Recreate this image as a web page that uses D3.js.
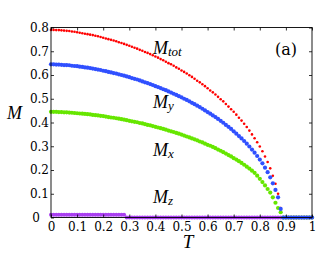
<!DOCTYPE html>
<html>
<head>
<meta charset="utf-8">
<script src="https://cdn.jsdelivr.net/npm/d3@7"></script>
<style>
  body { margin: 0; background: #fff; }
  svg { display: block; }
  .tick text { font-family: "DejaVu Serif", serif; font-size: 12px; fill: #000; }
  .tick line { stroke: #000; stroke-width: 0.8; }
  .lab { font-family: "Liberation Serif", serif; font-style: italic; fill: #000; }
</style>
</head>
<body>
<script>
// temperature grid
var temps = [0, 0.01, 0.02, 0.03, 0.04, 0.05, 0.06, 0.07, 0.08, 0.09,
  0.10, 0.11, 0.12, 0.13, 0.14, 0.15, 0.16, 0.17, 0.18, 0.19,
  0.20, 0.21, 0.22, 0.23, 0.24, 0.25, 0.26, 0.27, 0.28, 0.29,
  0.30, 0.31, 0.32, 0.33, 0.34, 0.35, 0.36, 0.37, 0.38, 0.39,
  0.40, 0.41, 0.42, 0.43, 0.44, 0.45, 0.46, 0.47, 0.48, 0.49,
  0.50, 0.51, 0.52, 0.53, 0.54, 0.55, 0.56, 0.57, 0.58, 0.59,
  0.60, 0.61, 0.62, 0.63, 0.64, 0.65, 0.66, 0.67, 0.68, 0.69,
  0.70, 0.71, 0.72, 0.73, 0.74, 0.75, 0.76, 0.77, 0.78, 0.79,
  0.80, 0.81, 0.82, 0.83, 0.84, 0.85, 0.86, 0.87, 0.88, 0.89,
  0.90, 0.91, 0.92, 0.93, 0.94, 0.95, 0.96, 0.97, 0.98, 0.99, 1.00];

// M_tot (red)
var mTot = [0.790, 0.790, 0.789, 0.789, 0.788, 0.787, 0.786, 0.785, 0.783, 0.782,
  0.780, 0.778, 0.776, 0.774, 0.772, 0.770, 0.768, 0.765, 0.763, 0.760,
  0.757, 0.754, 0.751, 0.748, 0.745, 0.742, 0.738, 0.735, 0.731, 0.727,
  0.723, 0.719, 0.715, 0.711, 0.706, 0.702, 0.697, 0.693, 0.688, 0.683,
  0.678, 0.673, 0.667, 0.662, 0.656, 0.650, 0.645, 0.639, 0.632, 0.626,
  0.619, 0.613, 0.606, 0.599, 0.592, 0.584, 0.576, 0.569, 0.561, 0.553,
  0.544, 0.535, 0.527, 0.518, 0.508, 0.498, 0.489, 0.478, 0.467, 0.456,
  0.445, 0.433, 0.420, 0.408, 0.395, 0.381, 0.366, 0.350, 0.334, 0.317,
  0.299, 0.279, 0.257, 0.234, 0.207, 0.176, 0.142, 0.100, 0.040, 0,
  0, 0, 0, 0, 0, 0, 0, 0, 0, 0, 0];

// M_y (blue)
var mY = [0.645, 0.645, 0.644, 0.644, 0.643, 0.642, 0.642, 0.641, 0.639, 0.638,
  0.637, 0.635, 0.634, 0.632, 0.631, 0.629, 0.627, 0.625, 0.623, 0.621,
  0.618, 0.616, 0.613, 0.611, 0.608, 0.606, 0.603, 0.600, 0.597, 0.594,
  0.591, 0.587, 0.584, 0.581, 0.577, 0.573, 0.569, 0.566, 0.562, 0.558,
  0.553, 0.549, 0.545, 0.540, 0.536, 0.531, 0.526, 0.521, 0.516, 0.511,
  0.506, 0.500, 0.495, 0.489, 0.483, 0.477, 0.471, 0.465, 0.458, 0.451,
  0.444, 0.437, 0.430, 0.423, 0.415, 0.407, 0.399, 0.390, 0.382, 0.373,
  0.363, 0.353, 0.343, 0.333, 0.322, 0.311, 0.299, 0.286, 0.273, 0.259,
  0.244, 0.228, 0.210, 0.191, 0.169, 0.144, 0.116, 0.085, 0.036, 0,
  0, 0, 0, 0, 0, 0, 0, 0, 0, 0, 0];

// M_x (green)
var mX = [0.445, 0.445, 0.445, 0.444, 0.444, 0.443, 0.443, 0.442, 0.441, 0.440,
  0.439, 0.438, 0.437, 0.436, 0.435, 0.434, 0.432, 0.431, 0.430, 0.428,
  0.427, 0.425, 0.423, 0.421, 0.420, 0.418, 0.416, 0.414, 0.412, 0.410,
  0.407, 0.405, 0.403, 0.401, 0.398, 0.396, 0.393, 0.390, 0.388, 0.385,
  0.382, 0.379, 0.376, 0.373, 0.370, 0.366, 0.363, 0.360, 0.356, 0.353,
  0.349, 0.345, 0.341, 0.337, 0.333, 0.329, 0.325, 0.320, 0.316, 0.311,
  0.306, 0.302, 0.297, 0.292, 0.286, 0.281, 0.275, 0.269, 0.263, 0.257,
  0.250, 0.244, 0.237, 0.230, 0.222, 0.214, 0.206, 0.197, 0.188, 0.176,
  0.163, 0.149, 0.135, 0.120, 0.105, 0.085, 0.062, 0.040, 0.022, 0,
  0, 0, 0, 0, 0, 0, 0, 0, 0, 0, 0];

// M_z (purple)
var mZ = [0.012, 0.012, 0.012, 0.012, 0.012, 0.012, 0.012, 0.012, 0.012, 0.012,
  0.012, 0.012, 0.012, 0.012, 0.012, 0.012, 0.012, 0.012, 0.012, 0.012,
  0.012, 0.012, 0.012, 0.012, 0.012, 0.012, 0.012, 0.012, 0.012, 0,
  0, 0, 0, 0, 0, 0, 0, 0, 0, 0,
  0, 0, 0, 0, 0, 0, 0, 0, 0, 0,
  0, 0, 0, 0, 0, 0, 0, 0, 0, 0,
  0, 0, 0, 0, 0, 0, 0, 0, 0, 0,
  0, 0, 0, 0, 0, 0, 0, 0, 0, 0,
  0, 0, 0, 0, 0, 0, 0, 0, 0, 0,
  0, 0, 0, 0, 0, 0, 0, 0, 0, 0, 0];

var xTicks = [0, 0.1, 0.2, 0.3, 0.4, 0.5, 0.6, 0.7, 0.8, 0.9, 1];
var yTicks = [0, 0.1, 0.2, 0.3, 0.4, 0.5, 0.6, 0.7, 0.8];

// plot box
var boxLeft = 51, boxRight = 312, boxTop = 27.5, boxBottom = 217.5;

var svg = d3.select("body").append("svg")
  .attr("width", 327)
  .attr("height", 253);

var x = d3.scaleLinear().domain([0, 1]).range([boxLeft, boxRight]);
var y = d3.scaleLinear().domain([0, 0.8]).range([boxBottom, boxTop]);

function fmt(d) {
  if (d == 0) return "0";
  if (d == 1) return "1";
  return d3.format(".1f")(d);
}

// series, drawn in this order (blue ends on top)
var series = [
  { values: mZ, color: "#a93ff0", r: 2.0 },
  { values: mTot, color: "#ff0000", r: 1.3 },
  { values: mX, color: "#66e600", r: 2.1 },
  { values: mY, color: "#3050ff", r: 2.1 }
];

series.forEach(function(s) {
  svg.append("g").selectAll("circle")
    .data(temps)
    .enter()
    .append("circle")
    .attr("cx", function(d) { return x(d); })
    .attr("cy", function(d, i) { return y(s.values[i]); })
    .attr("r", s.r)
    .attr("fill", s.color);
});

// axes, ticks pointing inward
svg.append("g")
  .attr("transform", "translate(0," + boxBottom + ")")
  .call(d3.axisBottom(x).tickValues(xTicks).tickFormat(fmt)
    .tickSizeInner(-3).tickSizeOuter(0).tickPadding(5))
  .call(function(g) { g.select(".domain").remove(); });

svg.append("g")
  .attr("transform", "translate(0," + boxTop + ")")
  .call(d3.axisTop(x).tickValues(xTicks).tickFormat("")
    .tickSizeInner(-3).tickSizeOuter(0))
  .call(function(g) { g.select(".domain").remove(); });

var yAx = svg.append("g")
  .attr("transform", "translate(" + boxLeft + ",0)")
  .call(d3.axisLeft(y).tickValues(yTicks).tickFormat(fmt)
    .tickSizeInner(-3).tickSizeOuter(0).tickPadding(2))
  .call(function(g) { g.select(".domain").remove(); });

// the y "0" sits further left, away from the x "0"
yAx.selectAll(".tick text")
  .filter(function(d) { return d == 0; })
  .attr("x", -11);

svg.append("g")
  .attr("transform", "translate(" + boxRight + ",0)")
  .call(d3.axisRight(y).tickValues(yTicks).tickFormat("")
    .tickSizeInner(-3).tickSizeOuter(0))
  .call(function(g) { g.select(".domain").remove(); });

// frame
svg.append("rect")
  .attr("x", boxLeft)
  .attr("y", boxTop)
  .attr("width", boxRight - boxLeft)
  .attr("height", boxBottom - boxTop)
  .attr("fill", "none")
  .attr("stroke", "#000")
  .attr("stroke-width", 0.9);

// axis titles
svg.append("text").attr("class", "lab")
  .attr("x", 188).attr("y", 248)
  .attr("text-anchor", "middle")
  .style("font-size", "19px")
  .text("T");

svg.append("text").attr("class", "lab")
  .attr("x", 7).attr("y", 119)
  .style("font-size", "18px")
  .text("M");

// curve labels
var labels = [
  { sub: "tot", y: 54 },
  { sub: "y", y: 108 },
  { sub: "x", y: 156 },
  { sub: "z", y: 203 }
];

labels.forEach(function(l) {
  var t = svg.append("text").attr("class", "lab")
    .attr("x", 153).attr("y", l.y)
    .style("font-size", "18px");
  t.append("tspan").text("M");
  t.append("tspan")
    .attr("dy", 2)
    .style("font-size", "13px")
    .text(l.sub);
});

svg.append("text")
  .attr("x", 275).attr("y", 55)
  .style("font-family", "'DejaVu Serif', serif")
  .style("font-size", "16px")
  .text("(a)");
</script>
</body>
</html>
